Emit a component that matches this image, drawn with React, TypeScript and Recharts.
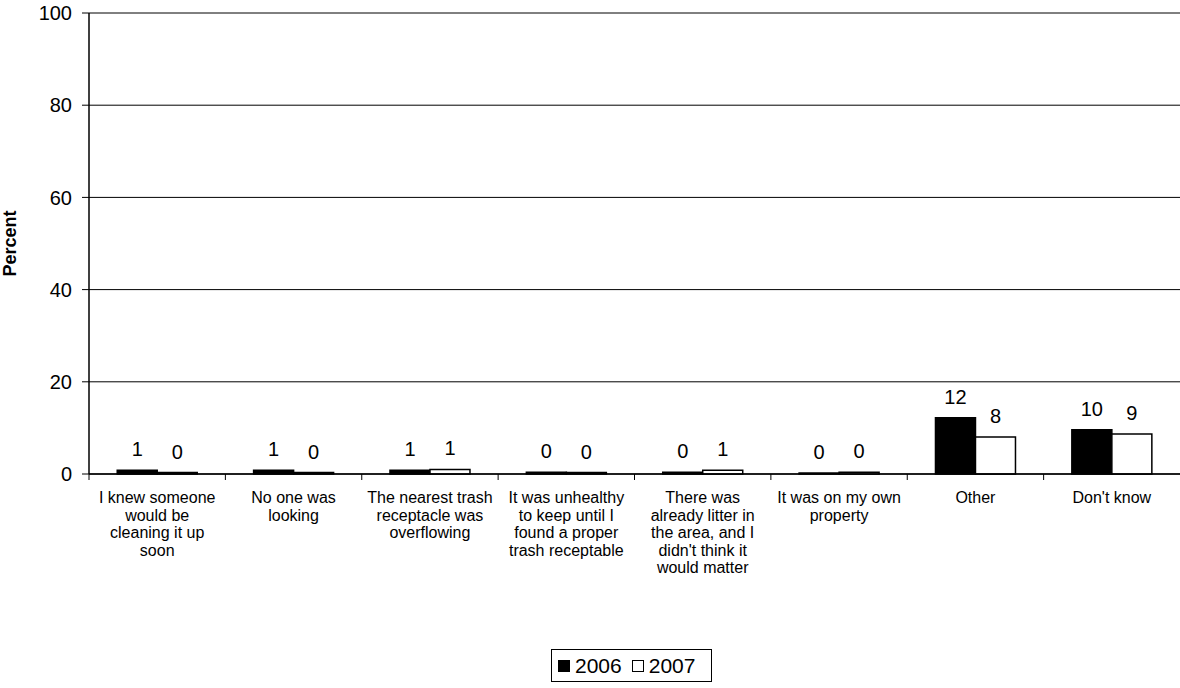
import React from "react";
import { BarChart, Bar, XAxis, YAxis, CartesianGrid, LabelList, Label } from "recharts";

const categories = [
  "I knew someone\nwould be\ncleaning it up\nsoon",
  "No one was\nlooking",
  "The nearest trash\nreceptacle was\noverflowing",
  "It was unhealthy\nto keep until I\nfound a proper\ntrash receptable",
  "There was\nalready litter in\nthe area, and I\ndidn't think it\nwould matter",
  "It was on my own\nproperty",
  "Other",
  "Don't know",
];
const values2006 = [0.8, 0.8, 0.8, 0.4, 0.4, 0.2, 12.2, 9.6];
const values2007 = [0.3, 0.3, 1.0, 0.3, 0.8, 0.4, 8.0, 8.7];
const seriesNames = ["2006", "2007"];
const seriesFills = ["#000000", "#ffffff"];
const yTicks = [0, 20, 40, 60, 80, 100];

const data = categories.map((c, i) => ({ cat: c, v2006: values2006[i], v2007: values2007[i] }));

const FONT = "Arial, 'Liberation Sans', sans-serif";
const W = 1180;
const H = 688;
const LEFT = 89;
const BAND = (W - LEFT) / categories.length;

const CatTick = (props: any) => {
  const { x, y, payload } = props;
  const lines = String(payload.value).split("\n");
  return (
    <g>
      <line x1={x - BAND / 2} x2={x - BAND / 2} y1={y - 6} y2={y} stroke="#000" strokeWidth={1} />
      <text x={x} y={y} textAnchor="middle" fontFamily={FONT} fontSize={16} fill="#000">
        {lines.map((l, i) => (
          <tspan key={i} x={x} dy={i === 0 ? 23 : 17.5}>
            {l}
          </tspan>
        ))}
      </text>
    </g>
  );
};

const roundFmt = (v: any) => Math.round(Number(v));

export default function App() {
  return (
    <div style={{ position: "absolute", left: 0, top: 0, width: W, height: H, background: "#fff" }}>
      <BarChart
        width={W}
        height={H}
        data={data}
        margin={{ top: 13, right: 0, bottom: 184, left: 0 }}
        barCategoryGap="20.7%"
        barGap={0}
      >
        <CartesianGrid vertical={false} stroke="#000" strokeWidth={1} />
        <XAxis
          dataKey="cat"
          interval={0}
          tick={<CatTick />}
          tickLine={false}
          tickSize={6}
          tickMargin={0}
          axisLine={{ stroke: "#000", strokeWidth: 1.5 }}
        />
        <YAxis
          width={LEFT}
          domain={[0, 100]}
          ticks={yTicks}
          interval={0}
          tickSize={7}
          tickMargin={10}
          tickLine={{ stroke: "#000" }}
          axisLine={{ stroke: "#000", strokeWidth: 1.5 }}
          tick={{ fontFamily: FONT, fontSize: 20, fill: "#000" }}
        >
          <Label
            value="Percent"
            angle={-90}
            position="insideLeft"
            offset={10}
            style={{ fontFamily: FONT, fontSize: 18, fontWeight: "bold", fill: "#000", textAnchor: "middle" }}
          />
        </YAxis>
        <Bar dataKey="v2006" name={seriesNames[0]} fill={seriesFills[0]} stroke="#000" strokeWidth={1.5} isAnimationActive={false}>
          <LabelList dataKey="v2006" position="top" offset={14} formatter={roundFmt} style={{ fontFamily: FONT, fontSize: 20, fill: "#000" }} />
        </Bar>
        <Bar dataKey="v2007" name={seriesNames[1]} fill={seriesFills[1]} stroke="#000" strokeWidth={1.5} isAnimationActive={false}>
          <LabelList dataKey="v2007" position="top" offset={14} formatter={roundFmt} style={{ fontFamily: FONT, fontSize: 20, fill: "#000" }} />
        </Bar>
      </BarChart>
      <div
        style={{
          position: "absolute",
          left: 551,
          top: 649,
          width: 161,
          height: 33,
          boxSizing: "border-box",
          border: "1px solid #000",
          display: "flex",
          alignItems: "center",
          justifyContent: "flex-start",
          paddingLeft: 6,
          fontFamily: FONT,
          fontSize: 21,
          color: "#000",
          gap: 10,
        }}
      >
        {seriesNames.map((n, i) => (
          <span key={n} style={{ display: "flex", alignItems: "center" }}>
            <span
              style={{
                display: "inline-block",
                width: 12,
                height: 12,
                boxSizing: "border-box",
                background: seriesFills[i],
                border: "1px solid #000",
                marginRight: 5,
              }}
            />
            {n}
          </span>
        ))}
      </div>
    </div>
  );
}
